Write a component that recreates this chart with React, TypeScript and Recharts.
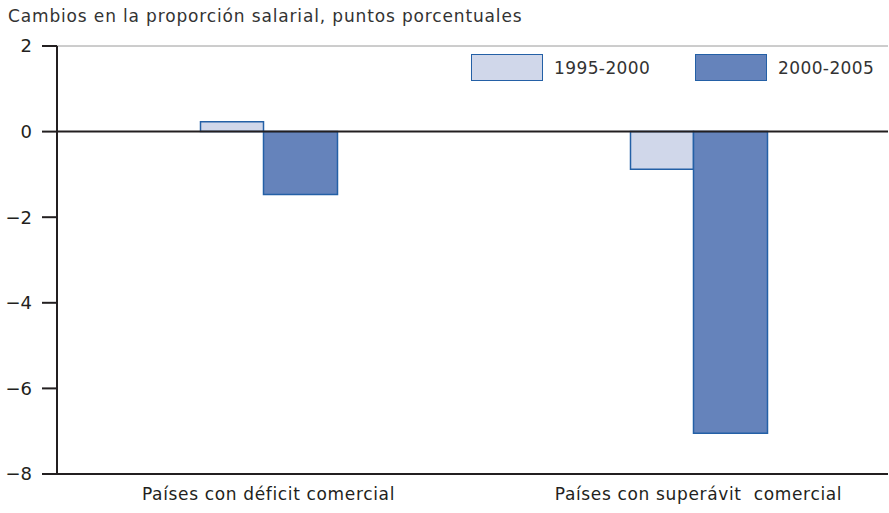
import {
  BarChart,
  Bar,
  XAxis,
  YAxis,
  ReferenceLine
} from "recharts";

const categories = ["Países con déficit comercial", "Países con superávit\u00a0 comercial"];
const period1 = [0.23, -0.88];
const period2 = [-1.47, -7.05];
const seriesNames = ["1995-2000", "2000-2005"];
const yTicks = [-8, -6, -4, -2, 0, 2];

const data = categories.map((name, i) => ({
  name,
  p1: period1[i],
  p2: period2[i]
}));

const FONT = "'DejaVu Sans', sans-serif";
const LIGHT = "#d0d7ea";
const DARK = "#6583bb";
const EDGE = "#2460a6";

function fmt(v: number) {
  return v < 0 ? "\u2212" + Math.abs(v) : String(v);
}

function LegendBox() {
  const items = [
    { label: seriesNames[0], fill: LIGHT, w: 224 },
    { label: seriesNames[1], fill: DARK, w: 200 }
  ];
  return (
    <div
      style={{
        position: "absolute",
        left: 471,
        top: 54,
        display: "flex",
        fontFamily: FONT,
        fontSize: 17,
        letterSpacing: 0.4,
        color: "#333"
      }}
    >
      {items.map((it) => (
        <div key={it.label} style={{ display: "flex", alignItems: "center", width: it.w }}>
          <div
            style={{
              width: 70,
              height: 25,
              background: it.fill,
              border: `1px solid ${EDGE}`,
              marginRight: 11
            }}
          />
          <span>{it.label}</span>
        </div>
      ))}
    </div>
  );
}

export default function App() {
  return (
    <div style={{ position: "absolute", left: 0, top: 0, width: 889, height: 513, background: "#fff" }}>
      <div
        style={{
          position: "absolute",
          left: 8,
          top: 6,
          fontFamily: FONT,
          fontSize: 17,
          letterSpacing: 0.85,
          color: "#333"
        }}
      >
        Cambios en la proporción salarial, puntos porcentuales
      </div>
      <BarChart
        width={889}
        height={513}
        data={data}
        margin={{ top: 46, right: 1, bottom: 9, left: 0 }}
        barGap={0}
      >
        <ReferenceLine y={2} stroke="#9a9a9a" strokeWidth={1} />
        <XAxis
          dataKey="name"
          padding={{ left: -3.5, right: -25.5 }}
          tickLine={false}
          axisLine={{ stroke: "#231f20", strokeWidth: 2 }}
          height={30}
          tickMargin={8}
          tick={{ fill: "#231f20", fontFamily: FONT, fontSize: 17, letterSpacing: 0.65 }}
        />
        <YAxis
          domain={[-8, 2]}
          ticks={yTicks}
          width={57}
          tickSize={15}
          tickMargin={10}
          tickFormatter={fmt}
          axisLine={{ stroke: "#231f20", strokeWidth: 2 }}
          tickLine={{ stroke: "#231f20", strokeWidth: 2 }}
          tick={{ fill: "#231f20", fontFamily: FONT, fontSize: 18 }}
          allowDataOverflow
        />
        <Bar
          dataKey="p1"
          name={seriesNames[0]}
          fill={LIGHT}
          stroke={EDGE}
          strokeWidth={1.5}
          barSize={63}
          isAnimationActive={false}
        />
        <Bar
          dataKey="p2"
          name={seriesNames[1]}
          fill={DARK}
          stroke={EDGE}
          strokeWidth={1.5}
          barSize={74}
          isAnimationActive={false}
        />
        <ReferenceLine y={0} stroke="#231f20" strokeWidth={2} />
      </BarChart>
      <LegendBox />
    </div>
  );
}
